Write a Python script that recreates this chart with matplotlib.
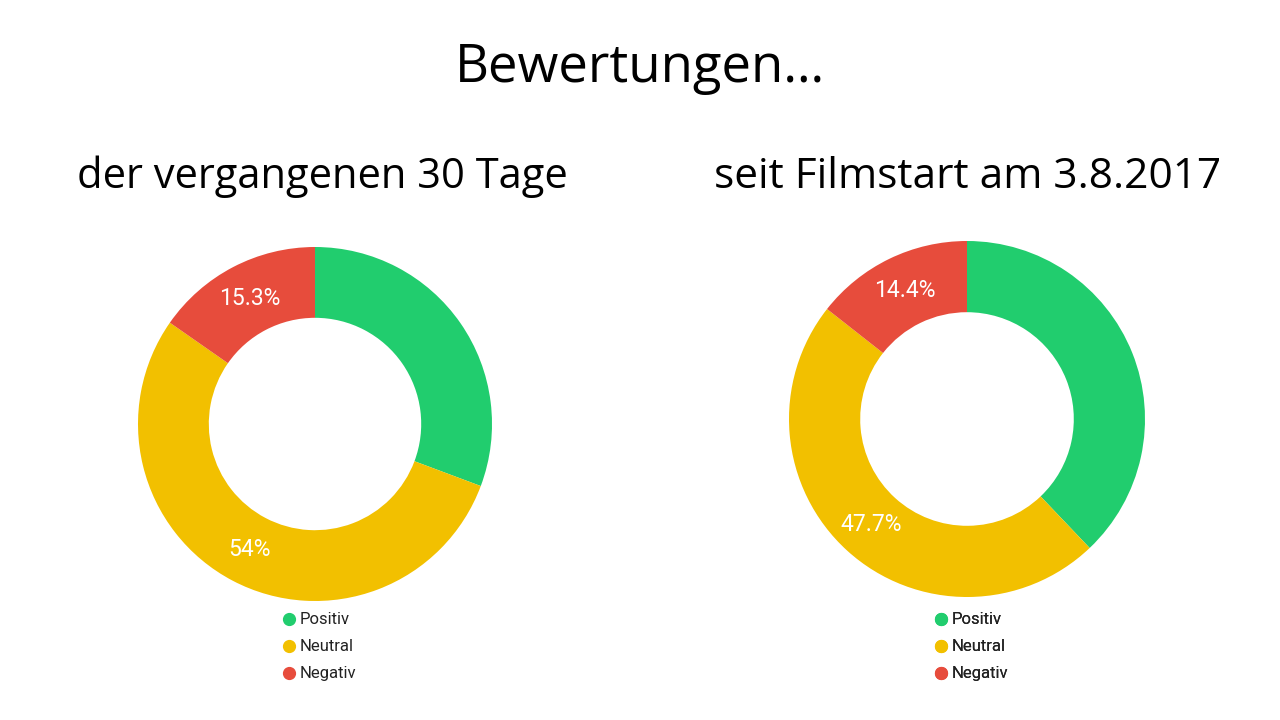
import matplotlib.pyplot as plt
from matplotlib.lines import Line2D
import numpy as np

# data
categories = ["Positiv", "Neutral", "Negativ"]
last_30_days = [30.7, 54.0, 15.3]
since_start = [37.9, 47.7, 14.4]
labels_30 = ["", "54%", "15.3%"]
labels_start = ["", "47.7%", "14.4%"]
colors = ["#21cd6e", "#f2c000", "#e74c3c"]

fig = plt.figure(figsize=(12.8, 7.2), dpi=100)
ax = fig.add_axes([0, 0, 1, 1])

def donut(values, labels, center, r):
    wedges, _ = ax.pie(values, colors=colors, startangle=90, counterclock=False,
                       radius=r, center=center,
                       wedgeprops=dict(width=r * 0.4, edgecolor="none"))
    for w, lab in zip(wedges, labels):
        if not lab:
            continue
        mid = np.deg2rad((w.theta1 + w.theta2) / 2)
        ax.text(center[0] + 0.8 * r * np.cos(mid), center[1] + 0.8 * r * np.sin(mid), lab,
                color="white", fontsize=16.5, ha="center", va="center", family="Roboto")
    return wedges

w1 = donut(last_30_days, labels_30, (315, 296), 177)
w2 = donut(since_start, labels_start, (967, 301), 178)

ax.set_xlim(0, 1280)
ax.set_ylim(0, 720)
ax.set_aspect("auto")
ax.axis("off")

handles = [Line2D([], [], marker="o", ls="", color=c, markersize=8.5) for c in colors]
for x in [272, 924]:
    leg = ax.legend(handles, categories, loc="upper left", bbox_to_anchor=(x, 116),
                    bbox_transform=ax.transData, frameon=False, handletextpad=0.15,
                    handlelength=1.0, labelspacing=0.72, borderpad=0,
                    prop=dict(family="Roboto", size=12), labelcolor="#222222")
    ax.add_artist(leg)

fig.text(0.5, 0.905, "Bewertungen…", ha="center", va="center", fontsize=38,
         family="Open Sans", color="black")
fig.text(322 / 1280, 1 - 177 / 720, "der vergangenen 30 Tage", ha="center", va="center",
         fontsize=30, family="Open Sans")
fig.text(968 / 1280, 1 - 177 / 720, "seit Filmstart am 3.8.2017", ha="center", va="center",
         fontsize=30.5, family="Open Sans")

fig.savefig("out.png", dpi=100)
